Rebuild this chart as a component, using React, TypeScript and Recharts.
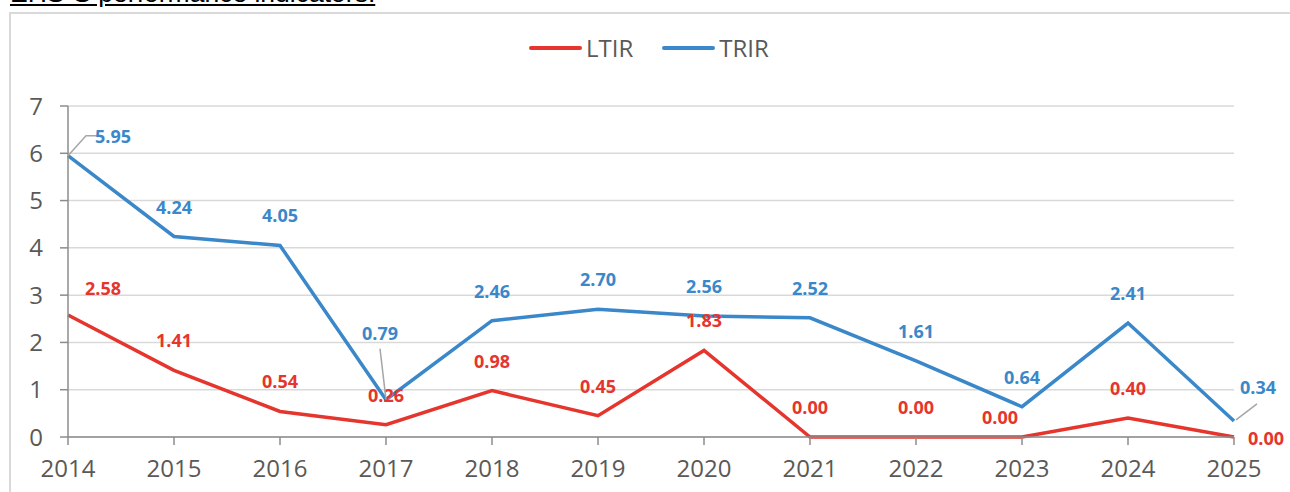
import { CartesianGrid, Line, LineChart, XAxis, YAxis } from "recharts";

const years = ["2014", "2015", "2016", "2017", "2018", "2019", "2020", "2021", "2022", "2023", "2024", "2025"];
const ltir = [2.58, 1.41, 0.54, 0.26, 0.98, 0.45, 1.83, 0.0, 0.0, 0.0, 0.4, 0.0];
const trir = [5.95, 4.24, 4.05, 0.79, 2.46, 2.7, 2.56, 2.52, 1.61, 0.64, 2.41, 0.34];
const yTicks = [0, 1, 2, 3, 4, 5, 6, 7];

const data = years.map((year, i) => ({ year, LTIR: ltir[i], TRIR: trir[i] }));

const RED = "#e5352d";
const BLUE = "#3a88c9";
const GREY_TEXT = "#595959";
const FONT = "'Open Sans', sans-serif";

// label offsets relative to the point (text centre), default is straight above
const ltirOffsets: Record<number, [number, number]> = {
  0: [35, -27],
  9: [-22, -20],
  11: [32, 1],
};
const trirOffsets: Record<number, [number, number]> = {
  0: [45, -20],
  3: [-6, -67],
  11: [24, -34],
};

function makeLabel(color: string, offsets: Record<number, [number, number]>, leaders: boolean) {
  return (props: any) => {
    const { x, y, index, value } = props;
    const [dx, dy] = offsets[index] ?? [0, -30];
    const tx = x + dx;
    const ty = y + dy;
    let leader = null;
    if (leaders && index === 0) {
      leader = <path d={`M${x},${y} L${x + 18},${ty} L${x + 31},${ty}`} stroke="#a6a6a6" strokeWidth={1.5} fill="none" />;
    } else if (leaders && index === 3) {
      leader = <path d={`M${x},${y} L${x - 6},${y - 51}`} stroke="#a6a6a6" strokeWidth={1.5} fill="none" />;
    } else if (leaders && index === 11) {
      leader = <path d={`M${x + 2},${y - 1} L${x + 23},${y - 17}`} stroke="#a6a6a6" strokeWidth={1.5} fill="none" />;
    }
    return (
      <g>
        {leader}
        <text
          x={tx}
          y={ty}
          textAnchor="middle"
          dominantBaseline="central"
          fill={color}
          fontSize={18}
          fontWeight={700}
          fontFamily={FONT}
        >
          {Number(value).toFixed(2)}
        </text>
      </g>
    );
  };
}

function LegendItem({ color, label }: { color: string; label: string }) {
  return (
    <span style={{ display: "flex", alignItems: "center", gap: 4 }}>
      <span style={{ width: 53, height: 4, borderRadius: 2, background: color }} />
      <span style={{ fontSize: 24, color: GREY_TEXT, fontFamily: FONT }}>{label}</span>
    </span>
  );
}

export default function App() {
  return (
    <div style={{ position: "fixed", left: 0, top: 0, width: 1290, height: 492, overflow: "hidden", background: "#fff" }}>
      <div
        style={{
          position: "absolute",
          left: 10,
          top: -20,
          fontFamily: "'Liberation Sans', Arial, sans-serif",
          fontSize: 26.5,
          lineHeight: 1,
          color: "#000",
          textDecoration: "underline",
          whiteSpace: "nowrap",
        }}
      >
        EHS-S performance indicators.
      </div>
      <div
        style={{
          position: "absolute",
          left: 9,
          top: 12,
          width: 1300,
          height: 500,
          border: "2px solid #d9d9d9",
          boxSizing: "border-box",
        }}
      />
      <div
        style={{
          position: "absolute",
          top: 31,
          left: 529,
          display: "flex",
          gap: 29,
        }}
      >
        <LegendItem color={RED} label="LTIR" />
        <LegendItem color={BLUE} label="TRIR" />
      </div>
      <div style={{ position: "absolute", left: 0, top: 0 }}>
        <LineChart width={1290} height={492} data={data} margin={{ top: 106, right: 56, left: 0, bottom: 0 }}>
          <CartesianGrid horizontal vertical={false} stroke="#d9d9d9" strokeWidth={1.5} />
          <XAxis
            dataKey="year"
            padding={{ left: 0, right: 0 }}
            height={55}
            tickSize={8}
            tickMargin={15}
            tick={{ fontSize: 24, fill: GREY_TEXT, fontFamily: FONT }}
            stroke="#8c8c8c"
            strokeWidth={1.5}
            interval={0}
          />
          <YAxis
            domain={[0, 7]}
            ticks={yTicks}
            width={68}
            tickSize={8}
            tickMargin={17}
            tick={{ fontSize: 24, fill: GREY_TEXT, fontFamily: FONT }}
            stroke="#8c8c8c"
            strokeWidth={1.5}
          />
          <Line
            dataKey="LTIR"
            stroke={RED}
            strokeWidth={3.5}
            dot={false}
            isAnimationActive={false}
            label={makeLabel(RED, ltirOffsets, false)}
          />
          <Line
            dataKey="TRIR"
            stroke={BLUE}
            strokeWidth={3.5}
            dot={false}
            isAnimationActive={false}
            label={makeLabel(BLUE, trirOffsets, true)}
          />
        </LineChart>
      </div>
    </div>
  );
}
